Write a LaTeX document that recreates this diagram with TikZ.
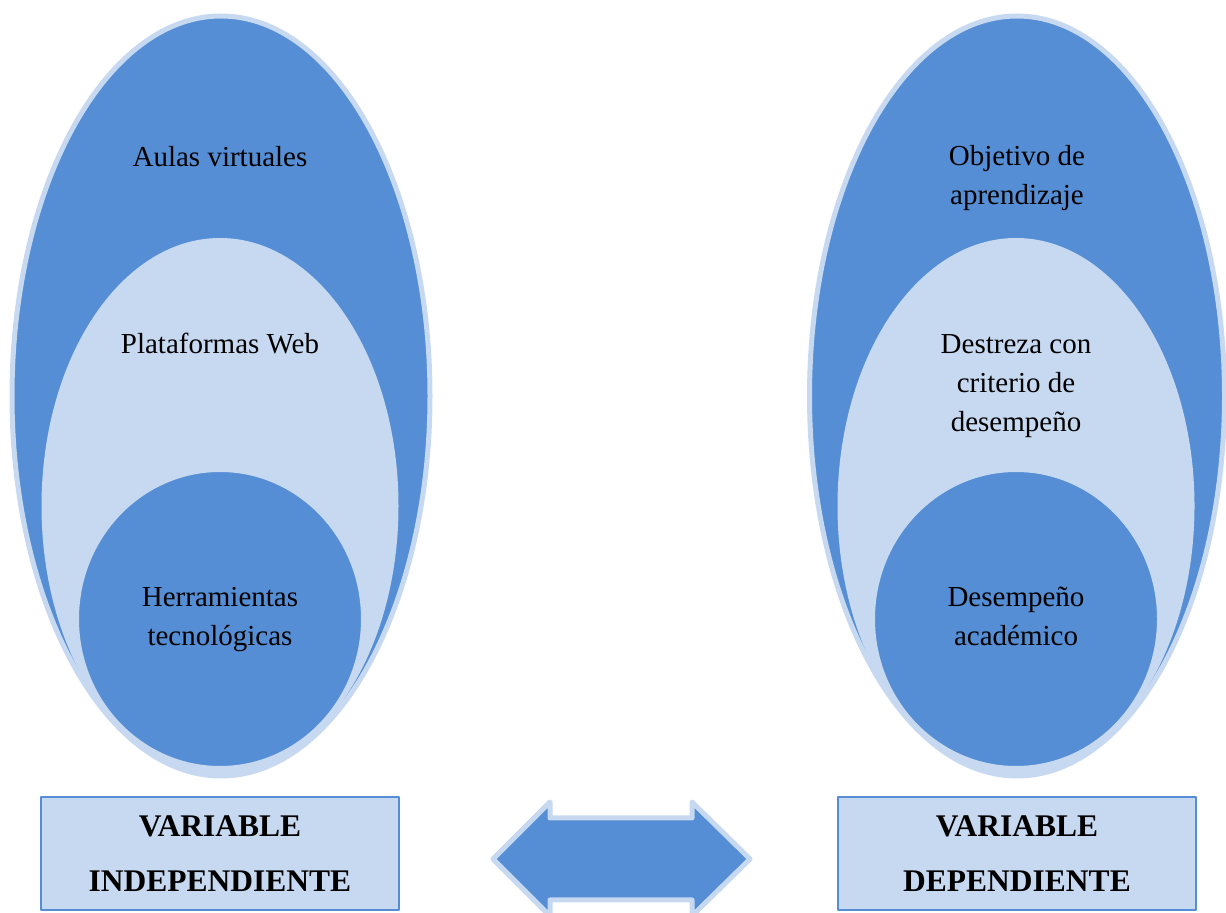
\documentclass[tikz,border=0pt]{standalone}
\usepackage{fontspec}
\setmainfont{Liberation Serif}
\usepackage{tikz}
\usetikzlibrary{shapes.geometric}
\definecolor{ringblue}{RGB}{85,142,213}
\definecolor{ringlight}{RGB}{198,217,241}

\begin{document}
\begin{tikzpicture}[line join=round,
  ring/.style={ellipse,inner sep=0pt,draw=ringlight,line width=5bp},
  label/.style={inner sep=0pt,align=center,font=\fontsize{29bp}{39bp}\selectfont},
  varbox/.style={draw=ringblue,line width=1.5bp,fill=ringlight,inner sep=0pt,
    minimum width=358bp,minimum height=113bp,align=center,
    font=\fontsize{31.5bp}{55bp}\selectfont\bfseries}]
%%
\useasboundingbox (0bp,0bp) rectangle (1226bp,913bp);
%% independiente
\node (node_outer_i) at (221bp,517bp) [ring,fill=ringblue,minimum width=418bp,minimum height=760bp] {};
  \node (node_mid_i) at (220bp,407bp) [ring,fill=ringlight,minimum width=352bp,minimum height=531bp] {};
  \node (node_inner_i) at (220bp,294bp) [ring,fill=ringblue,minimum width=287bp,minimum height=299bp] {};
  \node (node_aulas) at (220bp,756bp) [label] {Aulas virtuales};
  \node (node_plataformas) at (220bp,569bp) [label] {Plataformas Web};
  \node (node_herramientas) at (220bp,293bp) [label] {Herramientas\\tecnológicas};
%% dependiente
\node (node_outer_d) at (1017bp,517bp) [ring,fill=ringblue,minimum width=415bp,minimum height=760bp] {};
  \node (node_mid_d) at (1016bp,407bp) [ring,fill=ringlight,minimum width=352bp,minimum height=531bp] {};
  \node (node_inner_d) at (1016bp,294bp) [ring,fill=ringblue,minimum width=287bp,minimum height=299bp] {};
  \node (node_objetivo) at (1017bp,735bp) [label] {Objetivo de\\aprendizaje};
  \node (node_destreza) at (1016bp,527bp) [label] {Destreza con\\criterio de\\desempeño};
  \node (node_desempeno) at (1016bp,297bp) [label] {Desempeño\\académico};
%% variables
\node (node_var_i) at (220bp,59.5bp) [varbox] {VARIABLE\\INDEPENDIENTE};
  \node (node_var_d) at (1017bp,59.5bp) [varbox] {VARIABLE\\DEPENDIENTE};
  \filldraw [fill=ringblue,draw=ringlight,line width=5bp] (493bp,54bp) -- (550bp,111bp) -- (550bp,95bp) -- (692bp,95bp) -- (692bp,111bp) -- (750bp,54bp) -- (692bp,-3bp) -- (692bp,13bp) -- (550bp,13bp) -- (550bp,-3bp) -- cycle;
%
\end{tikzpicture}
\end{document}
